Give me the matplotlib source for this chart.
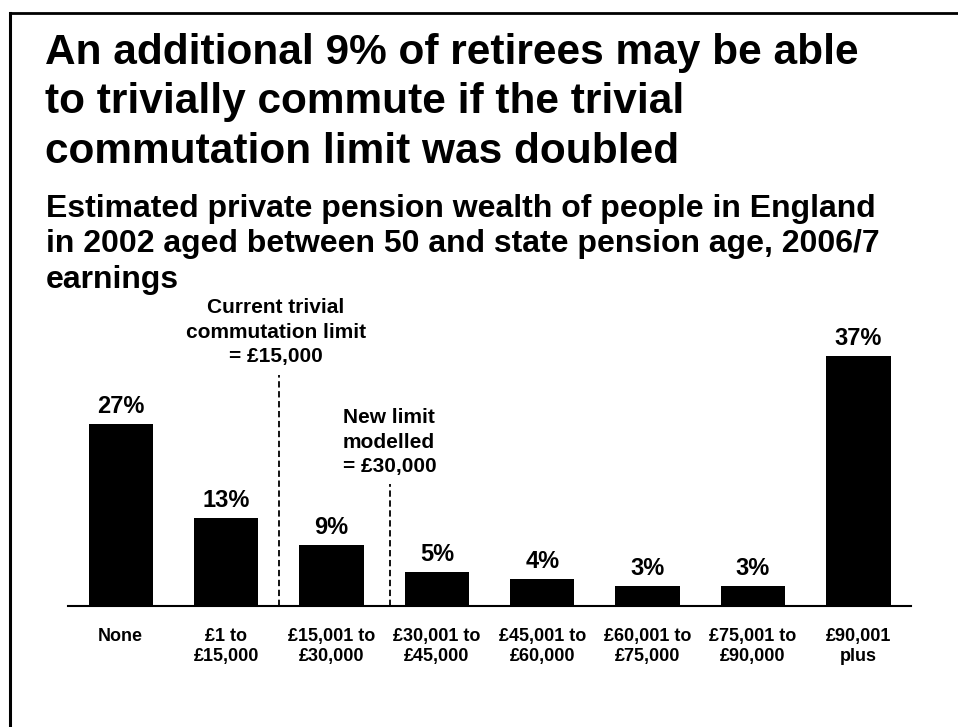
import matplotlib
matplotlib.use("Agg")
import matplotlib.pyplot as plt
from matplotlib.lines import Line2D

plt.rcParams['font.family'] = ['Liberation Sans', 'DejaVu Sans']
plt.rcParams['font.weight'] = 'bold'

# wealth bands and share of people in each band (%)
bands = ['None', '£1 to\n£15,000', '£15,001 to\n£30,000', '£30,001 to\n£45,000',
         '£45,001 to\n£60,000', '£60,001 to\n£75,000', '£75,001 to\n£90,000',
         '£90,001\nplus']
shares = [27, 13, 9, 5, 4, 3, 3, 37]

title = ('An additional 9% of retirees may be able\n'
         'to trivially commute if the trivial\n'
         'commutation limit was doubled')
subtitle = ('Estimated private pension wealth of people in England\n'
            'in 2002 aged between 50 and state pension age, 2006/7\n'
            'earnings')

current_limit = 1.5   # between £1-£15,000 and £15,001-£30,000
new_limit = 2.56      # between £15,001-£30,000 and £30,001-£45,000

fig = plt.figure(figsize=(9.58, 7.27), dpi=100)
ax = fig.add_axes([0.071, 0.1664, 0.880, 0.40])

x = range(len(bands))
ax.bar(x, shares, width=0.61, color='black')
for xi, v in zip(x, shares):
    ax.annotate(f'{v}%', (xi, v), xytext=(0, 8), textcoords='offset points',
                ha='center', va='baseline', fontsize=17, fontweight='bold')

ax.set_xlim(-0.5, 7.5)
ax.set_ylim(0, 43.1)
ax.set_xticks(list(x))
ax.set_xticklabels(bands, fontsize=13, fontweight='bold', linespacing=1.25)
ax.tick_params(axis='x', length=0, pad=16)
ax.set_yticks([])
for side in ['left', 'right', 'top']:
    ax.spines[side].set_visible(False)
ax.spines['bottom'].set_linewidth(1.5)

# dashed markers for the two commutation limits
ax.plot([current_limit, current_limit], [0, 34.3], color='black', lw=1.3,
        linestyle=(0, (3.5, 2)), clip_on=False)
ax.plot([new_limit, new_limit], [0, 18.05], color='black', lw=1.3,
        linestyle=(0, (3.5, 2)), clip_on=False)
ax.text(1.47, 36.1, 'Current trivial\ncommutation limit\n= £15,000',
        ha='center', va='baseline', fontsize=15, fontweight='bold',
        linespacing=1.39)
ax.text(2.11, 19.8, 'New limit\nmodelled\n= £30,000',
        ha='left', va='baseline', fontsize=15, fontweight='bold',
        linespacing=1.38)

fig.text(45 / 958, 1 - 163 / 727, title, ha='left', va='baseline',
         fontsize=30.5, fontweight='bold', linespacing=1.31)
fig.text(46 / 958, 1 - 288 / 727, subtitle, ha='left', va='baseline',
         fontsize=23, fontweight='bold', linespacing=1.24)

# frame lines along the top and left edge
fig.add_artist(Line2D([9.5 / 958, 957 / 958], [1 - 13 / 727, 1 - 13 / 727],
                      color='black', lw=2, transform=fig.transFigure))
fig.add_artist(Line2D([10 / 958, 10 / 958], [0, 1 - 13 / 727],
                      color='black', lw=2.2, transform=fig.transFigure))

fig.savefig('out.png', dpi=100)
